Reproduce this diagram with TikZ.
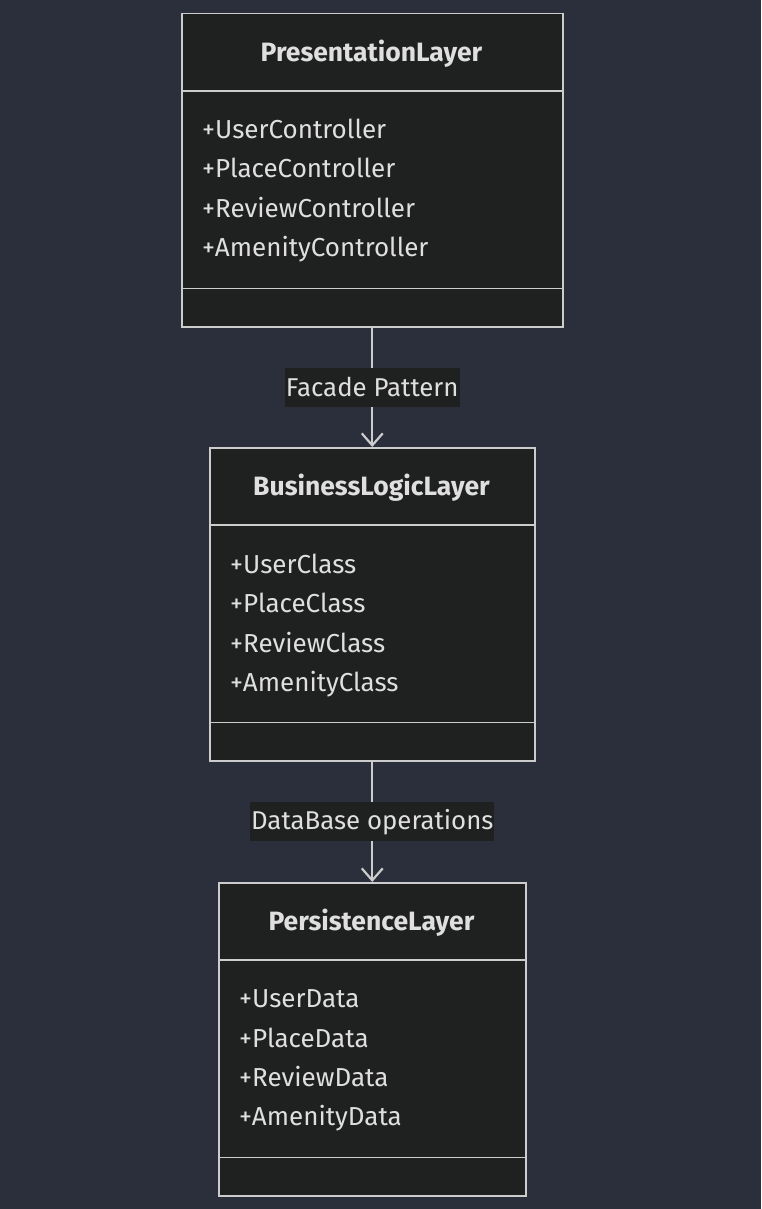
\documentclass[tikz,border=0pt]{standalone}
\usepackage{fontspec}
\setmainfont{Fira Sans}
\usetikzlibrary{arrows.meta,positioning}
\definecolor{bgslate}{RGB}{42,47,59}
\definecolor{boxdark}{RGB}{31,32,32}
\definecolor{linegrey}{RGB}{204,204,204}
\definecolor{textgrey}{RGB}{224,223,223}

\begin{document}
\begin{tikzpicture}[x=1pt, y=-1pt,
    cls/.style={rectangle, draw=linegrey, fill=boxdark, line width=1.5pt, inner sep=0pt,
                anchor=north west, minimum height=313pt},
    div/.style={draw=linegrey, line width=1.5pt},
    title/.style={anchor=base, inner sep=0pt, text=textgrey, font=\bfseries\fontsize{26.5}{30}\selectfont},
    member/.style={anchor=base west, inner sep=0pt, text=textgrey, font=\fontsize{26}{30}\selectfont},
    arr/.style={-{Straight Barb[length=12pt,width=21pt,line width=2.2pt]}, line width=2pt, linegrey},
    lbl/.style={fill=boxdark, text=textgrey, inner xsep=1pt, inner ysep=0pt, minimum height=39pt,
                font=\fontsize{25.8}{30}\selectfont}
]
\fill[bgslate] (0,0) rectangle (761,1209);
\useasboundingbox (0,0) rectangle (761,1209);

\node[cls, minimum width=381pt] (pres) at (181,13) {};
\draw[div] ([yshift=-78pt]pres.north west) -- ([yshift=-78pt]pres.north east);
\draw[div] ([yshift=39pt]pres.south west) -- ([yshift=39pt]pres.south east);
\node[title] (presT) at (371.5,61.5) {PresentationLayer};
\node[member] (presA) at (202,139) {+UserController};
\node[member] (presB) at (202,178) {+PlaceController};
\node[member] (presC) at (202,217) {+ReviewController};
\node[member] (presD) at (202,256) {+AmenityController};

\node[cls, minimum width=325pt] (biz) at (209,447) {};
\draw[div] ([yshift=-78pt]biz.north west) -- ([yshift=-78pt]biz.north east);
\draw[div] ([yshift=39pt]biz.south west) -- ([yshift=39pt]biz.south east);
\node[title] (bizT) at (371.5,495.5) {BusinessLogicLayer};
\node[member] (bizA) at (230,573) {+UserClass};
\node[member] (bizB) at (230,612) {+PlaceClass};
\node[member] (bizC) at (230,652) {+ReviewClass};
\node[member] (bizD) at (230,691) {+AmenityClass};

\node[cls, minimum width=307pt] (pers) at (218,882) {};
\draw[div] ([yshift=-78pt]pers.north west) -- ([yshift=-78pt]pers.north east);
\draw[div] ([yshift=39pt]pers.south west) -- ([yshift=39pt]pers.south east);
\node[title] (persT) at (371.5,930.5) {PersistenceLayer};
\node[member] (persA) at (239,1007) {+UserData};
\node[member] (persB) at (239,1047) {+PlaceData};
\node[member] (persC) at (239,1086) {+ReviewData};
\node[member] (persD) at (239,1125) {+AmenityData};

\draw[arr] (pres.south) -- node[lbl] {Facade Pattern} (biz.north);
\draw[arr] (biz.south) -- node[lbl] {DataBase operations} (pers.north);
\end{tikzpicture}
\end{document}
